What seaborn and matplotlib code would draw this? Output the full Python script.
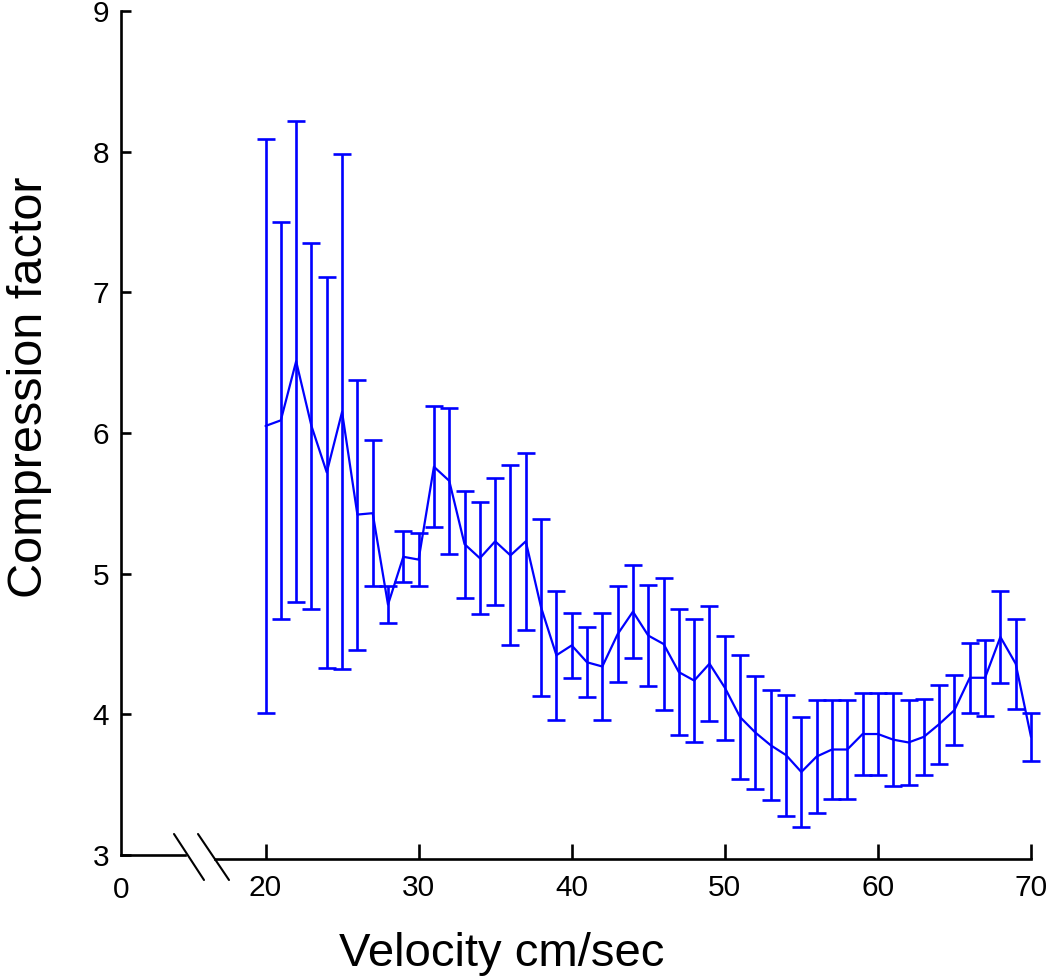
"""
Compression factor vs velocity, with a broken x axis (0 | 20-70).
"""

import matplotlib
matplotlib.use("Agg")
import matplotlib.pyplot as plt
from matplotlib.lines import Line2D
import seaborn as sns
import pandas as pd

# ── Data ──────────────────────────────────────────────────────────────────────
velocity = [20, 21, 22, 23, 24, 25, 26, 27, 28, 29,
            30, 31, 32, 33, 34, 35, 36, 37, 38, 39,
            40, 41, 42, 43, 44, 45, 46, 47, 48, 49,
            50, 51, 52, 53, 54, 55, 56, 57, 58, 59,
            60, 61, 62, 63, 64, 65, 66, 67, 68, 69, 70]
compression = [6.05, 6.09, 6.51, 6.05, 5.72, 6.15, 5.42, 5.43, 4.78, 5.12,
               5.10, 5.76, 5.66, 5.21, 5.11, 5.23, 5.13, 5.23, 4.76, 4.42,
               4.49, 4.37, 4.34, 4.57, 4.73, 4.56, 4.50, 4.30, 4.24, 4.36,
               4.19, 3.98, 3.87, 3.78, 3.71, 3.59, 3.70, 3.75, 3.75, 3.86,
               3.86, 3.82, 3.80, 3.84, 3.93, 4.03, 4.26, 4.26, 4.55, 4.36, 3.84]
error = [2.04, 1.41, 1.71, 1.30, 1.39, 1.83, 0.96, 0.52, 0.13, 0.18,
         0.19, 0.43, 0.52, 0.38, 0.40, 0.45, 0.64, 0.63, 0.63, 0.46,
         0.23, 0.25, 0.38, 0.34, 0.33, 0.36, 0.47, 0.45, 0.44, 0.41,
         0.37, 0.44, 0.40, 0.39, 0.43, 0.39, 0.40, 0.35, 0.35, 0.29,
         0.29, 0.33, 0.30, 0.27, 0.28, 0.25, 0.25, 0.27, 0.33, 0.32, 0.17]

x_ticks = [20, 30, 40, 50, 60, 70]
y_ticks = [3, 4, 5, 6, 7, 8, 9]

df = pd.DataFrame({"Velocity": velocity, "Compression": compression, "Err": error})

# ── Style ─────────────────────────────────────────────────────────────────────
sns.set_style("ticks")
plt.rcParams.update({
    "font.family": ["Liberation Sans", "DejaVu Sans"],
    "text.color": "black",
    "axes.labelcolor": "black",
    "xtick.color": "black",
    "ytick.color": "black",
})

W, H = 1050, 977
BLUE = "#0000FF"
LW_AX = 1.9

fig = plt.figure(figsize=(W / 100, H / 100), dpi=100)


def px_box(x0, y_top, x1, y_bot):
    return [x0 / W, 1 - y_bot / H, (x1 - x0) / W, (y_bot - y_top) / H]


# left stub axes: holds the y axis and the "0" tick
ax0 = fig.add_axes(px_box(121, 11, 185, 855))
# main axes: 20..70
ax = fig.add_axes(px_box(215, 11, 1031, 855))

for a in (ax0, ax):
    a.set_ylim(3, 9)
    a.set_facecolor("none")
    for s in a.spines.values():
        s.set_linewidth(LW_AX)
        s.set_color("black")
    a.spines["top"].set_visible(False)
    a.spines["right"].set_visible(False)

ax0.set_xlim(0, 1)
ax0.set_xticks([0])
ax0.set_xticklabels(["0"])
ax0.set_yticks(y_ticks)
ax0.tick_params(axis="y", direction="in", length=7.2, width=LW_AX,
                labelsize=21.5, pad=8.5)
ax0.tick_params(axis="x", direction="in", length=0, labelsize=21.5, pad=15)

ax.spines["left"].set_visible(False)
ax.spines["bottom"].set_position(("outward", 3))
ax.set_xlim(16.7, 70)
ax.set_xticks(x_ticks)
ax.set_yticks([])
ax.tick_params(axis="x", direction="in", length=10.8, width=LW_AX,
               labelsize=21.5, pad=10.5)

sns.lineplot(data=df, x="Velocity", y="Compression", ax=ax, color=BLUE,
             linewidth=1.6, legend=False, clip_on=False)
ax.errorbar(df["Velocity"], df["Compression"], yerr=df["Err"], fmt="none",
            ecolor=BLUE, elinewidth=1.9, capsize=6.5, capthick=1.9,
            clip_on=False)
ax.set_xlabel("")
ax.set_ylabel("")

# axis break marks
for x0, x1 in [(174, 204), (198, 229)]:
    fig.add_artist(Line2D([x0 / W, x1 / W], [1 - 834 / H, 1 - 880 / H],
                          color="black", linewidth=1.5))

fig.text(502 / W, 1 - 966 / H, "Velocity cm/sec", fontsize=34,
         ha="center", va="baseline")
fig.text(30 / W, 1 - 387 / H, "Compression factor", fontsize=35,
         rotation=90, ha="center", va="center")

fig.savefig("out.png", dpi=100, facecolor="white")
